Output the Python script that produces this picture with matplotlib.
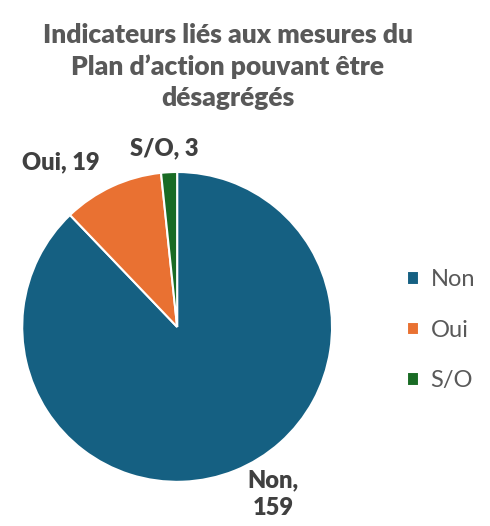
import numpy as np
import matplotlib.pyplot as plt

categories = ['Non', 'Oui', 'S/O']
values = [159, 19, 3]
colors = ['#156082', '#E97132', '#196B24']

# position des etiquettes (unites du rayon du camembert)
label_pos = [(0.62, -1.08), (-0.75, 1.06), (-0.08, 1.15)]

plt.rcParams['font.family'] = ['Lato', 'DejaVu Sans']

fig = plt.figure(figsize=(4.9, 5.26), dpi=100)
ax = fig.add_axes([0.045, 0.084, 0.633, 0.589])

wedges, _ = ax.pie(values, colors=colors, startangle=90, counterclock=False,
                   wedgeprops=dict(edgecolor='white', linewidth=1.5))
ax.set_xlim(-1, 1)
ax.set_ylim(-1, 1)
ax.set_aspect('equal')

for cat, val, (x, y) in zip(categories, values, label_pos):
    txt = f'{cat},\n{val}' if cat == 'Non' else f'{cat}, {val}'
    ax.text(x, y, txt, ha='center', va='center', fontsize=17, fontweight='heavy',
            color='#404040', linespacing=1.3, clip_on=False)

fig.text(0.465, 0.873, "Indicateurs liés aux mesures du\nPlan d’action pouvant être\ndésagrégés",
         ha='center', va='center', fontsize=19, fontweight='heavy', color='#595959',
         linespacing=1.36)

fig.legend(wedges, categories, loc='center left', bbox_to_anchor=(0.787, 0.372),
           frameon=False, fontsize=17, labelcolor='#595959', handlelength=0.5,
           handleheight=0.5, handletextpad=0.5, labelspacing=1.25)

fig.savefig('out.png', dpi=100)
